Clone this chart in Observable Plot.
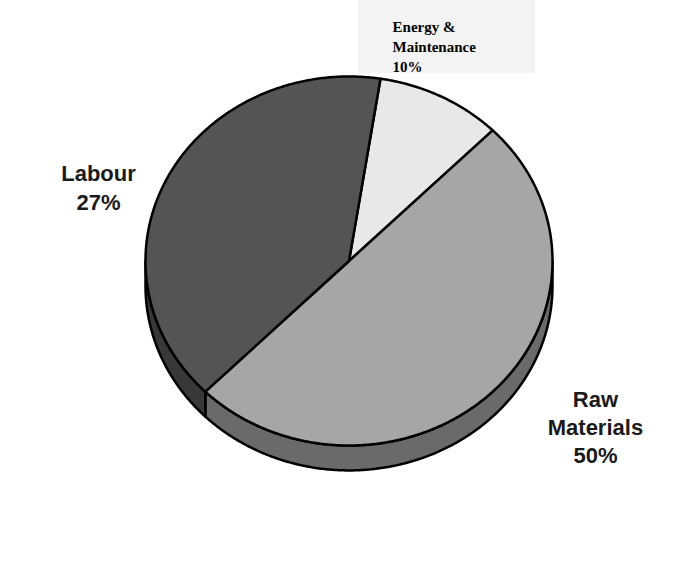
<!DOCTYPE html>
<html><head><meta charset="utf-8">
<script src="https://cdn.jsdelivr.net/npm/d3@7"></script>
<script src="https://cdn.jsdelivr.net/npm/@observablehq/plot@0.6"></script>
<style>body{margin:0;background:#fff}</style>
</head><body><div id="chart"></div>
<script>
// ---- data ----
const categories = ["Energy & Maintenance", "Raw Materials", "Labour"];
const sliceShare = [10, 50, 40];          // share of the disc as drawn
const labelLines = [["Energy &", "Maintenance", "10%"], ["Raw", "Materials", "50%"], ["Labour", "27%"]];
const topColors = ["#e8e8e8", "#a6a6a6", "#545454"];
const sideColors = ["#9c9c9c", "#6a6a6a", "#383838"];

// ---- layout (in pie units: radius = 1) ----
const startDeg = 8.9;
const depth = 0.135;
const labelPos = [[0.214, 1.168, "start"], [1.211, -0.894, "middle"], [-1.231, 0.404, "middle"]];
const boxRect = {x1: 0.047, x2: 0.917, y1: 1.016, y2: 1.45};

const arcs = d3.pie().sort(null)
  .startAngle(startDeg * Math.PI / 180)
  .endAngle(startDeg * Math.PI / 180 + 2 * Math.PI)(sliceShare);

const step = Math.PI / 360;
function arcPts(a0, a1, dy) {
  const pts = [];
  const n = Math.max(2, Math.ceil((a1 - a0) / step));
  for (let i = 0; i <= n; i++) {
    const a = a0 + (a1 - a0) * i / n;
    pts.push([Math.sin(a), Math.cos(a) - dy]);
  }
  return pts;
}

const tops = [], sides = [];
arcs.forEach((arc, i) => {
  const pts = [[0, 0], ...arcPts(arc.startAngle, arc.endAngle, 0), [0, 0]];
  pts.forEach(p => tops.push({id: categories[i], x: p[0], y: p[1], c: topColors[i]}));
  // visible front side: angles between 90° and 270° (clockwise from top)
  for (const k of [0, 2 * Math.PI]) {
    const lo = Math.max(arc.startAngle, Math.PI / 2 + k);
    const hi = Math.min(arc.endAngle, 3 * Math.PI / 2 + k);
    if (hi > lo) {
      const band = [...arcPts(lo, hi, 0), ...arcPts(lo, hi, depth).reverse()];
      band.push(band[0]);
      band.forEach(p => sides.push({id: categories[i] + k, x: p[0], y: p[1], c: sideColors[i]}));
    }
  }
});

const labels = categories.map((c, i) => ({
  text: labelLines[i].join("\n"), x: labelPos[i][0], y: labelPos[i][1], anchor: labelPos[i][2]
}));

const chart = Plot.plot({
  width: 699, height: 567,
  margin: 0,
  x: {domain: [-1, 1], range: [145, 552], axis: null},
  y: {domain: [-1, 1], range: [445, 76], axis: null},
  color: {type: "identity"},
  style: {background: "#fff"},
  marks: [
    Plot.rect([boxRect], {x1: "x1", x2: "x2", y1: "y1", y2: "y2", fill: "#f3f3f3"}),
    Plot.line(sides, {x: "x", y: "y", z: "id", fill: "c", stroke: "#000", strokeWidth: 2.5, strokeLinejoin: "round", curve: "linear"}),
    Plot.line(tops, {x: "x", y: "y", z: "id", fill: "c", stroke: "#000", strokeWidth: 2.5, strokeLinejoin: "round", curve: "linear"}),
    Plot.text(labels.filter(d => d.anchor === "middle"), {x: "x", y: "y", text: "text", textAnchor: "middle", lineAnchor: "middle",
      fontSize: 22, fontWeight: "bold", fontFamily: "Liberation Sans, Arial, sans-serif", lineHeight: 1.29, fill: "#1a1a1a"}),
    Plot.text(labels.filter(d => d.anchor === "start"), {x: "x", y: "y", text: "text", textAnchor: "start", lineAnchor: "middle",
      fontSize: 15, fontWeight: "bold", fontFamily: "Liberation Serif, Times New Roman, serif", lineHeight: 1.33, fill: "#000"})
  ]
});
document.getElementById("chart").appendChild(chart);
</script>
</body></html>
